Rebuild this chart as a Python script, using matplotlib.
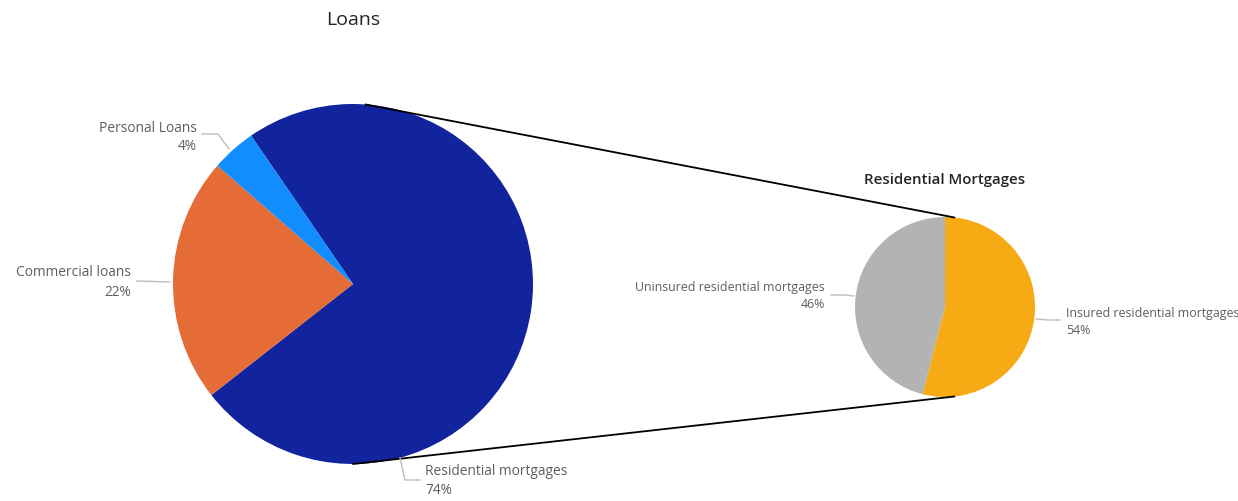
import numpy as np
import matplotlib.pyplot as plt

# big pie data
loan_types = ["Residential mortgages", "Commercial loans", "Personal Loans"]
loan_values = [74, 22, 4]
loan_colors = ["#12239E", "#E66C37", "#118DFF"]

# breakdown of residential mortgages
mort_types = ["Insured residential mortgages", "Uninsured residential mortgages"]
mort_values = [54, 46]
mort_colors = ["#F6AA13", "#B3B3B3"]

W, H = 1238, 502
LABEL_COL = "#605E5C"
LEADER_COL = "#BDBDBD"
plt.rcParams['font.family'] = ['Open Sans', 'DejaVu Sans']


def pct(vals):
    vals = np.asarray(vals, dtype=float)
    return ["%d%%" % round(v) for v in vals / vals.sum() * 100]


def on_circle(c, r, deg):
    a = np.deg2rad(deg)
    return c[0] + r * np.cos(a), c[1] + r * np.sin(a)


fig = plt.figure(figsize=(W / 100, H / 100), dpi=100)
ax = fig.add_axes([0, 0, 1, 1])

big_c, big_r = (353, H - 285), 180
small_c, small_r = (945, H - 308), 90

ax.pie(loan_values, colors=loan_colors, startangle=124.5, counterclock=False,
       center=big_c, radius=big_r, wedgeprops=dict(linewidth=0))
ax.pie(mort_values, colors=mort_colors, startangle=90, counterclock=False,
       center=small_c, radius=small_r, wedgeprops=dict(linewidth=0))

ax.set_xlim(0, W)
ax.set_ylim(0, H)
ax.set_aspect('equal')
ax.axis('off')

# connector lines between the two pies
for a_big, a_small in [(86, 84), (270, 276)]:
    x0, y0 = on_circle(big_c, big_r, a_big)
    x1, y1 = on_circle(small_c, small_r, a_small)
    ax.plot([x0, x1], [y0, y1], color="black", lw=1.3, solid_capstyle='round')

# titles
ax.text(353, H - 20, "Loans", ha='center', va='center', fontsize=14,
        color="#252423", fontweight='medium')
ax.text(945, H - 180, "Residential Mortgages", ha='center', va='center',
        fontsize=10.8, color="#252423", fontweight='semibold')

# labels with leader lines
loan_pct = pct(loan_values)
mort_pct = pct(mort_values)
fs = 9.9
fs2 = 8.9

# Personal Loans
ax.text(197, H - 128, loan_types[2], ha='right', va='center', fontsize=fs, color=LABEL_COL)
ax.text(197, H - 147, loan_pct[2], ha='right', va='center', fontsize=fs, color=LABEL_COL)
ax.plot([202, 218, 229], [H - 135, H - 135, H - 150], color=LEADER_COL, lw=1)

# Commercial loans
ax.text(131, H - 273, loan_types[1], ha='right', va='center', fontsize=fs, color=LABEL_COL)
ax.text(131, H - 293, loan_pct[1], ha='right', va='center', fontsize=fs, color=LABEL_COL)
ax.plot([137, 170], [H - 282, H - 283], color=LEADER_COL, lw=1)

# Residential mortgages
ax.text(425, H - 472, loan_types[0], ha='left', va='center', fontsize=fs, color=LABEL_COL)
ax.text(425, H - 491, loan_pct[0], ha='left', va='center', fontsize=fs, color=LABEL_COL)
ax.plot([400, 405, 420], [H - 459, H - 481, H - 481], color=LEADER_COL, lw=1)

# Uninsured
ax.text(825, H - 288, mort_types[1], ha='right', va='center', fontsize=fs2, color=LABEL_COL)
ax.text(825, H - 305, mort_pct[1], ha='right', va='center', fontsize=fs2, color=LABEL_COL)
ax.plot([831, 845, 854], [H - 296, H - 296, H - 297], color=LEADER_COL, lw=1)

# Insured
ax.text(1066, H - 313, mort_types[0], ha='left', va='center', fontsize=fs2, color=LABEL_COL)
ax.text(1066, H - 330, mort_pct[0], ha='left', va='center', fontsize=fs2, color=LABEL_COL)
ax.plot([1036, 1048, 1060], [H - 320, H - 321, H - 321], color=LEADER_COL, lw=1)

fig.savefig("out.png", dpi=100)
